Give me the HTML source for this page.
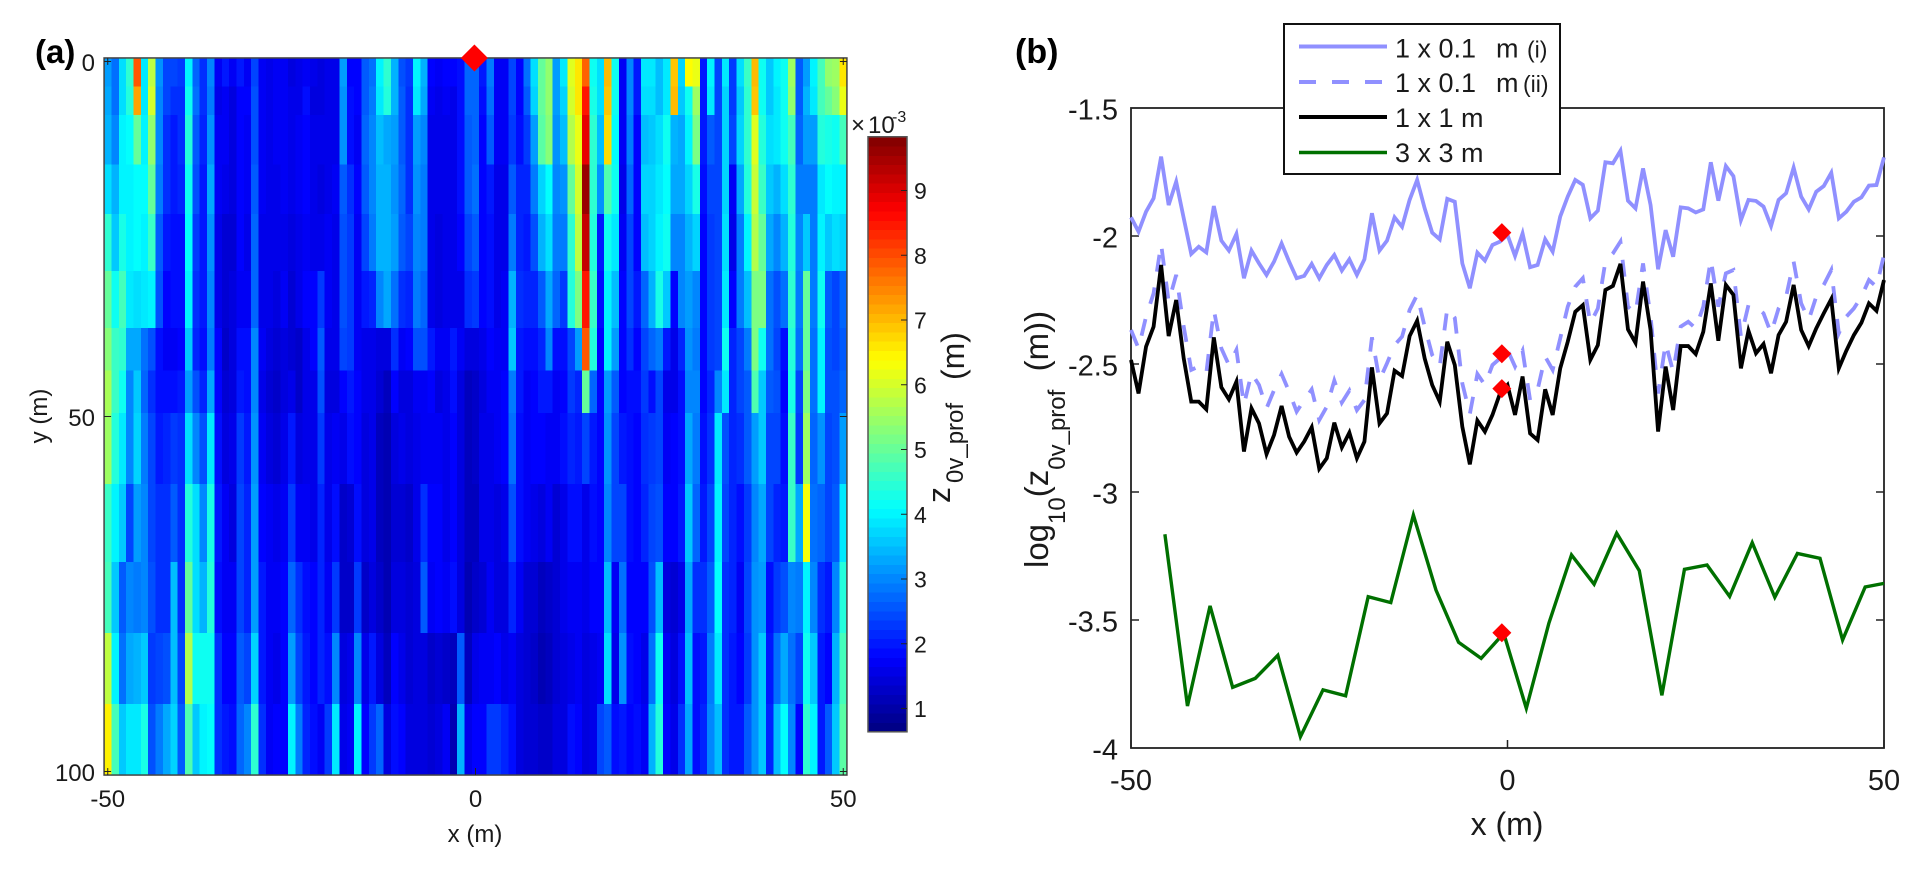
<!DOCTYPE html>
<html lang="en">
<head>
<meta charset="utf-8">
<title>Roughness length maps and profiles</title>
<style>
html,body{margin:0;padding:0;background:#fff;}
svg{display:block;font-family:"Liberation Sans",sans-serif;fill:#1a1a1a;}
</style>
</head>
<body>
<svg id="figure" xmlns="http://www.w3.org/2000/svg" width="1924" height="873" viewBox="0 0 1924 873">
  <rect x="0" y="0" width="1924" height="873" fill="#fff"/>
  <g id="panelA"></g>
  <g id="panelB"></g>

  <text x="35" y="63" font-size="33" font-weight="bold" fill="#000">(a)</text>
  <text x="1015" y="63" font-size="34" font-weight="bold" fill="#000">(b)</text>

  <text x="475" y="842" font-size="24" text-anchor="middle">x (m)</text>
  <text transform="translate(47,416) rotate(-90)" font-size="24" text-anchor="middle">y (m)</text>

  <text x="851" y="133" font-size="24">×</text>
  <text x="868" y="133" font-size="24">10</text>
  <text x="892" y="122" font-size="16">-3</text>

  <text transform="translate(950,503) rotate(-90)" font-size="32">z</text>
  <text transform="translate(963,483) rotate(-90)" font-size="24">0v_prof</text>
  <text transform="translate(964,380) rotate(-90)" font-size="32">(m)</text>

  <text x="1507" y="835" font-size="32" text-anchor="middle">x (m)</text>
  <text transform="translate(1048,568) rotate(-90)" font-size="33">log<tspan dy="17" font-size="24">10</tspan><tspan dy="-17">(z</tspan><tspan dy="17" font-size="24">0v_prof</tspan><tspan dy="-17" xml:space="preserve">  (m))</tspan></text>

  <g id="legend">
    <rect x="1284" y="24" width="276" height="150" fill="#fff" stroke="#111" stroke-width="2"/>
    <line x1="1299" y1="46.5" x2="1387" y2="46.5" stroke="#9090ff" stroke-width="4"/>
    <line x1="1299" y1="82" x2="1387" y2="82" stroke="#9090ff" stroke-width="4" stroke-dasharray="17 16"/>
    <line x1="1299" y1="117" x2="1387" y2="117" stroke="#000" stroke-width="4"/>
    <line x1="1299" y1="152.5" x2="1387" y2="152.5" stroke="#007000" stroke-width="3.5"/>
    <text x="1395" y="57.5" font-size="27">1 x 0.1 <tspan x="1496">m</tspan><tspan x="1527" font-size="23">(i)</tspan></text>
    <text x="1395" y="92" font-size="27">1 x 0.1 <tspan x="1496">m</tspan><tspan x="1523" font-size="23">(ii)</tspan></text>
    <text x="1395" y="127" font-size="27">1 x 1 m</text>
    <text x="1395" y="162" font-size="27">3 x 3 m</text>
  </g>
</svg>

<script>
// ---------- Panel (a) data: z0v_prof in units of 1e-3 m ----------
var heatXTicks = [-50, 0, 50];
var heatYTicks = [0, 50, 100];
var colorbarTicks = [1, 2, 3, 4, 5, 6, 7, 8, 9];
var colorMin = 0.64;
var colorMax = 9.83;
var heatXFirst = -50;
var heatRowEdges = [-0.5, 3.5, 7.5, 14.5, 21.5, 29.5, 37.5, 43.5, 49.5, 59.5, 70.5, 80.5, 90.5, 100.5];
var heatColumns = [
[3.2,3.3,3.4,3.8,4.5,5.0,5.3,5.6,5.5,4.6,4.7,5.8,6.5],
[2.8,2.8,3.0,3.4,3.6,4.2,4.6,4.6,4.4,4.0,3.6,4.0,4.7],
[3.8,3.8,4.0,4.0,4.3,4.7,4.5,4.2,3.9,3.6,2.6,2.8,3.6],
[4.5,4.4,4.1,4.0,4.0,3.9,3.3,3.0,3.0,2.4,3.0,3.3,3.9],
[7.9,7.2,5.0,4.1,4.1,3.8,3.3,3.6,3.7,3.2,2.9,3.4,3.9],
[3.9,3.9,4.0,4.1,4.0,3.9,2.8,2.7,2.9,3.0,3.0,3.6,4.3],
[5.8,6.0,5.4,5.0,4.6,4.0,2.5,2.2,2.4,2.4,2.5,2.3,2.5],
[3.1,3.0,3.0,2.9,2.6,2.5,1.9,1.9,2.0,2.2,2.2,2.4,2.9],
[2.4,2.4,2.2,2.2,2.0,1.8,1.7,1.9,2.1,2.2,2.2,2.5,3.3],
[2.4,2.2,2.0,2.0,1.9,1.9,1.7,1.9,2.3,2.6,3.5,3.5,3.7],
[2.3,2.2,2.2,2.1,1.9,1.9,1.8,2.0,2.2,2.2,2.2,2.4,2.6],
[4.0,4.2,4.4,4.2,4.1,4.0,3.6,3.2,3.8,4.4,5.0,5.7,4.8],
[2.7,2.8,2.6,2.5,2.3,2.2,2.1,2.5,3.0,3.8,3.8,4.2,3.6],
[2.2,2.2,2.1,2.0,2.0,2.0,1.9,2.1,2.5,3.0,3.4,4.2,4.0],
[3.0,2.9,3.1,3.3,3.1,3.0,2.9,3.3,3.9,4.3,4.4,4.2,4.1],
[1.7,1.6,1.7,1.7,1.6,1.6,1.8,1.8,1.9,2.0,1.9,2.2,2.2],
[2.0,1.7,1.7,1.6,1.4,1.4,1.3,1.4,1.5,1.7,1.7,1.8,2.0],
[1.7,1.5,1.5,1.5,1.4,1.5,1.5,1.5,1.6,1.5,1.7,1.8,1.9],
[2.0,1.8,1.8,1.8,1.8,1.7,1.9,2.0,2.3,2.4,2.4,2.6,2.7],
[1.7,1.8,1.7,1.7,1.6,1.7,1.9,1.9,2.0,2.1,2.1,2.4,3.0],
[2.4,2.5,2.5,2.6,2.7,2.7,3.0,3.0,3.1,3.2,3.2,3.7,4.5],
[1.7,1.7,1.7,1.7,1.6,1.6,1.7,1.6,1.7,1.8,2.0,2.0,2.2],
[1.6,1.6,1.6,1.6,1.6,1.6,1.5,1.4,1.5,1.7,1.7,1.7,1.7],
[1.7,1.7,1.7,1.6,1.6,1.5,1.4,1.3,1.4,1.6,1.7,1.6,1.8],
[1.7,1.7,1.7,1.7,1.6,1.7,1.5,1.5,1.6,1.7,1.8,1.8,1.8],
[1.5,1.6,1.6,1.6,1.5,1.4,1.4,1.6,2.0,2.3,2.7,3.2,4.0],
[1.6,1.6,1.7,1.7,1.6,1.6,1.3,1.3,1.5,1.7,2.2,2.4,2.9],
[1.7,1.9,1.8,1.8,1.7,1.8,1.6,1.6,1.6,1.7,1.9,2.0,2.1],
[1.6,1.5,1.6,1.6,1.6,1.8,1.8,1.6,1.6,1.6,1.8,1.8,1.9],
[1.5,1.5,1.6,1.5,1.6,2.3,2.6,2.5,2.3,2.1,2.1,2.1,1.7],
[1.6,1.6,1.6,1.6,1.7,1.7,1.6,1.5,1.6,1.6,1.7,1.9,2.3],
[1.6,1.6,1.6,1.7,1.6,1.6,1.6,1.5,1.7,1.9,2.3,3.0,3.9],
[3.2,3.1,3.1,2.6,2.5,2.5,2.4,1.8,1.6,1.3,1.3,1.5,1.6],
[1.8,1.9,1.9,2.2,2.3,2.3,2.3,2.0,1.9,1.4,1.3,1.6,1.7],
[1.8,1.8,1.7,1.8,1.7,1.7,1.7,1.8,1.8,1.9,2.3,3.0,4.0],
[2.6,2.6,2.7,2.6,2.4,2.0,1.6,1.6,1.5,1.5,1.3,1.6,1.8],
[2.8,2.9,3.0,3.0,2.9,2.1,1.6,1.6,1.6,1.6,1.5,2.0,2.3],
[4.0,3.9,3.5,3.4,3.4,3.0,1.5,1.4,1.2,1.2,1.3,1.5,2.7],
[4.5,4.4,3.3,3.4,3.4,3.3,1.5,1.2,1.1,1.1,1.1,1.2,1.5],
[3.4,3.4,3.2,3.1,3.2,2.8,2.2,1.8,1.5,1.4,1.5,1.8,1.9],
[2.5,2.6,2.6,2.7,2.6,2.2,1.7,1.5,1.6,1.4,1.5,1.6,1.8],
[2.3,2.2,2.2,2.2,2.4,2.1,1.8,1.5,1.5,1.3,1.4,1.4,1.5],
[4.0,3.9,3.2,3.1,3.0,2.9,2.5,1.7,1.6,1.6,1.5,1.5,1.5],
[3.4,3.3,3.0,2.9,2.9,2.7,2.5,1.7,1.7,2.2,2.6,1.5,1.5],
[1.8,1.7,1.6,1.6,1.6,1.6,2.0,1.8,1.7,1.8,1.7,1.3,1.4],
[1.7,1.6,1.6,1.6,1.5,1.5,1.7,1.5,1.7,1.8,1.8,1.4,1.5],
[1.8,1.7,1.6,1.6,1.6,1.6,1.7,1.6,1.6,1.6,1.7,1.3,1.7],
[1.8,1.6,1.6,1.6,1.6,1.6,2.0,1.9,1.8,1.8,1.9,1.2,1.1],
[1.9,1.9,1.9,1.9,1.8,1.6,1.7,1.5,1.5,1.5,1.5,2.6,3.4],
[2.7,2.7,2.6,2.6,2.4,2.2,1.5,1.2,1.2,1.2,1.1,1.2,1.6],
[2.7,2.7,2.7,2.8,2.6,2.3,1.5,1.3,1.3,1.2,1.3,1.6,1.8],
[2.0,1.9,1.8,1.8,1.8,1.8,1.6,1.5,1.6,1.6,1.4,1.7,1.8],
[2.9,2.8,2.6,2.0,1.9,1.9,1.8,1.7,1.6,1.6,1.7,1.7,2.3],
[1.7,1.7,1.7,1.6,1.6,1.6,1.7,1.7,1.7,1.5,1.5,1.8,2.3],
[1.7,1.7,1.7,1.6,1.6,1.7,1.7,1.8,1.8,1.6,1.5,1.6,2.1],
[2.4,2.4,2.3,2.6,2.9,3.4,3.6,2.9,2.8,2.5,2.1,1.7,1.9],
[1.8,1.8,1.9,2.1,2.1,2.2,2.0,2.0,1.9,1.9,1.7,1.5,1.5],
[2.8,2.6,2.3,2.1,2.0,2.1,1.9,1.7,1.7,1.7,1.4,1.4,1.4],
[3.8,3.7,3.2,2.9,2.5,2.1,1.9,1.8,1.8,1.6,1.4,1.3,1.4],
[5.0,5.0,4.9,3.7,3.4,2.6,2.1,2.0,1.8,1.5,1.2,1.1,1.3],
[5.4,5.4,5.3,4.1,3.8,3.3,3.0,2.0,1.7,1.7,1.3,1.2,1.3],
[3.2,3.2,3.1,3.0,2.9,2.7,1.9,1.7,1.7,1.4,1.4,1.4,1.5],
[3.9,3.7,3.5,3.1,2.9,2.3,1.9,1.8,1.9,1.6,1.6,1.5,1.5],
[6.1,6.0,5.7,5.0,4.5,4.4,2.4,2.3,2.1,1.9,1.7,1.6,1.9],
[6.6,6.6,6.2,6.0,5.8,5.2,3.2,2.1,2.0,1.9,1.7,1.7,1.8],
[7.8,8.5,8.9,9.6,9.2,8.5,7.9,5.0,2.4,1.6,1.6,1.5,1.5],
[4.2,4.3,4.5,4.5,4.4,4.6,4.4,2.7,2.0,1.9,1.8,1.6,1.6],
[3.8,3.8,3.5,3.1,2.0,1.9,1.8,1.8,1.8,1.8,1.8,1.7,2.4],
[7.0,6.9,6.7,4.8,4.2,4.0,4.0,3.2,3.1,3.0,3.5,3.8,2.6],
[4.2,4.2,4.1,4.2,3.9,3.5,3.2,2.6,2.4,2.4,1.7,1.6,1.9],
[1.7,1.7,1.7,1.6,1.7,1.8,1.8,1.8,2.0,2.4,2.8,3.1,2.0],
[3.0,3.0,2.9,2.7,2.4,2.4,2.2,1.9,1.9,1.9,1.8,1.9,1.8],
[2.0,2.0,1.8,1.8,1.8,2.0,1.8,1.9,1.8,1.8,1.8,1.8,1.9],
[3.9,3.8,3.5,3.7,3.5,2.7,2.4,2.3,2.2,2.1,1.8,1.6,1.7],
[3.9,3.8,3.6,3.7,3.7,3.4,2.7,1.9,2.3,2.4,2.5,2.8,3.4],
[3.5,3.5,3.8,3.9,4.0,4.3,2.9,2.4,2.4,2.5,3.5,4.2,4.4],
[3.9,3.9,4.2,4.1,4.2,3.6,2.0,1.6,1.7,1.8,1.5,1.7,1.8],
[6.9,7.0,3.4,3.3,3.0,1.8,1.6,1.6,1.8,1.8,1.4,1.5,1.6],
[3.7,3.6,3.3,3.3,3.0,3.0,2.1,1.9,1.9,2.0,1.6,1.9,2.2],
[6.4,4.2,4.0,3.7,3.4,3.2,3.1,3.0,3.3,3.6,3.3,3.5,3.3],
[6.2,5.5,5.2,4.3,3.7,3.0,2.9,3.0,2.9,2.7,2.2,1.9,1.9],
[2.0,2.0,2.0,1.9,1.8,1.8,1.8,1.8,1.9,2.0,2.2,2.0,2.1],
[4.0,3.9,2.6,2.4,2.3,2.3,2.3,2.1,2.2,2.4,2.6,2.9,3.0],
[2.4,2.4,2.4,2.4,2.4,2.4,2.4,3.0,3.9,4.0,4.1,3.9,3.5],
[3.9,3.7,3.7,3.7,3.8,3.9,4.2,3.9,2.5,2.4,2.2,2.2,2.2],
[2.3,2.3,2.4,1.7,1.6,1.8,2.1,2.1,2.1,2.1,2.1,2.0,2.0],
[3.8,3.6,3.7,3.3,2.9,2.9,2.4,2.4,2.2,1.9,1.7,1.8,2.0],
[4.6,4.5,4.5,4.4,4.0,3.5,2.9,2.6,2.6,2.3,2.4,2.3,2.6],
[7.0,6.9,6.1,5.9,5.7,5.2,5.2,4.8,3.2,3.0,3.1,3.1,3.1],
[4.2,4.2,4.4,4.6,5.0,5.2,4.2,3.6,3.6,3.3,3.2,3.6,3.6],
[3.6,3.6,3.8,3.6,3.3,2.8,2.8,2.6,2.4,2.4,1.9,2.0,2.1],
[4.0,3.9,3.9,3.4,3.0,2.5,2.4,2.5,2.4,2.1,2.3,2.8,3.5],
[4.2,4.2,4.2,3.8,3.4,2.8,1.9,1.8,1.9,2.0,2.5,3.3,4.1],
[5.5,5.4,4.7,4.5,4.4,4.5,4.4,4.3,4.6,4.6,3.0,2.8,3.0],
[2.6,2.6,2.7,2.9,3.0,2.9,2.8,2.4,2.3,3.3,2.9,2.4,1.8],
[3.2,3.4,3.2,2.9,3.6,5.0,5.0,5.2,5.5,6.3,4.0,4.2,4.5],
[4.0,3.9,3.2,2.9,2.9,2.9,2.8,2.8,2.7,2.8,3.0,3.6,4.0],
[4.7,4.7,4.4,3.9,4.0,4.2,4.0,4.0,3.1,2.7,2.2,2.0,2.0],
[5.4,5.0,4.3,4.1,3.6,2.6,2.5,2.5,2.4,2.4,2.0,1.8,2.6],
[5.5,5.3,4.2,4.0,3.8,2.4,2.4,2.5,2.5,2.6,3.0,3.4,3.6],
[6.6,6.2,4.7,4.0,3.7,2.7,2.6,2.7,3.2,3.9,4.4,4.7,4.9]
];

// ---------- Panel (b) data: log10(z0v_prof) ----------
var profileXTicks = [-50, 0, 50];
var profileYTicks = [-1.5, -2, -2.5, -3, -3.5, -4];
var profileYLabels = ["-1.5", "-2", "-2.5", "-3", "-3.5", "-4"];
var profileXStart = -50;
var fineSolid = [-1.927,-1.983,-1.905,-1.853,-1.69,-1.879,-1.788,-1.93,-2.07,-2.042,-2.064,-1.883,-2.018,-2.057,-1.992,-2.165,-2.057,-2.107,-2.152,-2.1,-2.029,-2.1,-2.165,-2.156,-2.109,-2.165,-2.113,-2.074,-2.135,-2.091,-2.152,-2.091,-1.911,-2.057,-2.018,-1.927,-1.964,-1.859,-1.781,-1.892,-1.987,-2.013,-1.855,-1.866,-2.107,-2.204,-2.065,-2.096,-2.035,-2.022,-1.996,-2.078,-1.99,-2.122,-2.113,-2.013,-2.061,-1.924,-1.846,-1.781,-1.8,-1.931,-1.901,-1.712,-1.716,-1.667,-1.862,-1.892,-1.736,-1.879,-2.13,-1.977,-2.081,-1.888,-1.892,-1.908,-1.896,-1.712,-1.862,-1.727,-1.766,-1.938,-1.859,-1.863,-1.885,-1.961,-1.859,-1.833,-1.733,-1.846,-1.896,-1.827,-1.805,-1.753,-1.931,-1.905,-1.866,-1.849,-1.803,-1.801,-1.693];
var fineDashed = [-2.367,-2.439,-2.315,-2.224,-2.031,-2.257,-2.152,-2.354,-2.523,-2.51,-2.536,-2.289,-2.439,-2.504,-2.445,-2.66,-2.536,-2.582,-2.673,-2.602,-2.539,-2.608,-2.686,-2.641,-2.599,-2.719,-2.667,-2.565,-2.651,-2.604,-2.68,-2.641,-2.396,-2.563,-2.497,-2.426,-2.393,-2.289,-2.23,-2.354,-2.465,-2.51,-2.283,-2.32,-2.576,-2.695,-2.539,-2.582,-2.504,-2.478,-2.445,-2.51,-2.448,-2.641,-2.6,-2.471,-2.523,-2.4,-2.276,-2.198,-2.165,-2.341,-2.283,-2.1,-2.068,-2.022,-2.276,-2.302,-2.107,-2.315,-2.615,-2.419,-2.53,-2.354,-2.335,-2.361,-2.276,-2.091,-2.276,-2.146,-2.133,-2.393,-2.27,-2.276,-2.302,-2.38,-2.283,-2.237,-2.1,-2.263,-2.328,-2.237,-2.191,-2.133,-2.38,-2.315,-2.283,-2.237,-2.172,-2.198,-2.074];
var oneMetre = [-2.484,-2.615,-2.432,-2.354,-2.113,-2.391,-2.25,-2.478,-2.647,-2.647,-2.677,-2.396,-2.591,-2.638,-2.569,-2.842,-2.673,-2.732,-2.852,-2.777,-2.664,-2.784,-2.846,-2.803,-2.747,-2.909,-2.868,-2.729,-2.826,-2.768,-2.868,-2.803,-2.513,-2.732,-2.693,-2.526,-2.547,-2.391,-2.331,-2.478,-2.582,-2.647,-2.413,-2.504,-2.745,-2.892,-2.721,-2.764,-2.699,-2.615,-2.582,-2.699,-2.549,-2.771,-2.797,-2.599,-2.699,-2.517,-2.413,-2.296,-2.27,-2.484,-2.426,-2.211,-2.195,-2.109,-2.365,-2.417,-2.178,-2.367,-2.764,-2.51,-2.68,-2.43,-2.43,-2.461,-2.374,-2.185,-2.409,-2.191,-2.23,-2.517,-2.37,-2.458,-2.422,-2.536,-2.387,-2.335,-2.191,-2.367,-2.43,-2.361,-2.302,-2.246,-2.517,-2.448,-2.387,-2.339,-2.263,-2.292,-2.172];
var threeMetreX = [-45.5,-42.5,-39.5,-36.5,-33.5,-30.5,-27.5,-24.5,-21.5,-18.5,-15.5,-12.5,-9.5,-6.5,-3.5,-0.5,2.5,5.5,8.5,11.5,14.5,17.5,20.5,23.5,26.5,29.5,32.5,35.5,38.5,41.5,44.5,47.5,50];
var threeMetre = [-3.165,-3.836,-3.445,-3.763,-3.728,-3.638,-3.956,-3.773,-3.796,-3.409,-3.432,-3.09,-3.383,-3.587,-3.65,-3.552,-3.845,-3.512,-3.246,-3.36,-3.161,-3.307,-3.794,-3.302,-3.285,-3.408,-3.198,-3.411,-3.24,-3.259,-3.578,-3.371,-3.357];
var markerX = -0.75;
var markerValues = [-1.987, -2.46, -2.596, -3.55];

// ---------- Helpers ----------
var NS = 'http://www.w3.org/2000/svg';
function make(tag, parent, attrs) {
  var el = document.createElementNS(NS, tag);
  for (var k in attrs) { el.setAttribute(k, attrs[k]); }
  parent.appendChild(el);
  return el;
}
function clamp01(t) { return Math.max(0, Math.min(1, t)); }
function jet(v) {
  var c = clamp01((v - colorMin) / (colorMax - colorMin));
  var r = clamp01(1.5 - Math.abs(4 * c - 3));
  var g = clamp01(1.5 - Math.abs(4 * c - 2));
  var b = clamp01(1.5 - Math.abs(4 * c - 1));
  return 'rgb(' + Math.round(r * 255) + ',' + Math.round(g * 255) + ',' + Math.round(b * 255) + ')';
}

// ---------- Panel (a) ----------
var panelA = document.getElementById('panelA');
function heatX(v) { return 475.5 + 7.355 * v; }
function heatY(v) { return 61.5 + 7.1 * v; }
var heatGroup = make('g', panelA, {'shape-rendering': 'crispEdges'});


heatColumns.forEach(function (col, i) {
  var xv = heatXFirst + i;
  col.forEach(function (val, b) {
    var x0 = heatX(xv - 0.5), x1 = heatX(xv + 0.5);
    var y0 = heatY(heatRowEdges[b]), y1 = heatY(heatRowEdges[b + 1]);
    var cell = make('rect', heatGroup, {x: x0, y: y0, width: x1 - x0 + 0.4, height: y1 - y0 + 0.4, fill: jet(val)});
    
    
  });
});
var heatFrame = make('rect', panelA, {x: heatX(-50.5), y: heatY(-0.5), width: heatX(50.5) - heatX(-50.5), height: heatY(100.5) - heatY(-0.5), fill: 'none', stroke: '#444', 'stroke-width': 1.5});



heatXTicks.forEach(function (t) {
  [[heatY(100.5), heatY(100.5) - 7], [heatY(-0.5), heatY(-0.5) + 7]].forEach(function (p) {
    var tick = make('line', panelA, {x1: heatX(t), x2: heatX(t), y1: p[0], y2: p[1], stroke: '#222', 'stroke-width': 1});
    
    
  });
  var label = make('text', panelA, {x: heatX(t), y: 807, 'font-size': 24, 'text-anchor': 'middle'});
  label.textContent = String(t);
  
  
});
heatYTicks.forEach(function (t) {
  [[heatX(-50.5), heatX(-50.5) + 7], [heatX(50.5), heatX(50.5) - 7]].forEach(function (p) {
    var tick = make('line', panelA, {x1: p[0], x2: p[1], y1: heatY(t), y2: heatY(t), stroke: '#222', 'stroke-width': 1});
    
    
  });
  var label = make('text', panelA, {x: 95, y: heatY(t) + 9.5, 'font-size': 24, 'text-anchor': 'end'});
  label.textContent = String(t);
  
  
});
var topMarker = make('polygon', panelA, {points: [[heatX(-0.15) - 13.5, 58], [heatX(-0.15), 44.5], [heatX(-0.15) + 13.5, 58], [heatX(-0.15), 71.5]].join(' '), fill: '#ff0000'});



// Colorbar
function barY(v) { return 579 - (v - 3) * 64.75; }
var barGroup = make('g', panelA, {'shape-rendering': 'crispEdges'});


var barLevels = 64;
for (var lv = 0; lv < barLevels; lv++) {
  var lo = colorMin + (colorMax - colorMin) * lv / barLevels;
  var hi = colorMin + (colorMax - colorMin) * (lv + 1) / barLevels;
  var seg = make('rect', barGroup, {x: 868, y: barY(hi), width: 39, height: barY(lo) - barY(hi) + 0.4, fill: jet((lo + hi) / 2)});
  
  
}
var barFrame = make('rect', panelA, {x: 868, y: barY(colorMax), width: 39, height: barY(colorMin) - barY(colorMax), fill: 'none', stroke: '#555', 'stroke-width': 1.5});


colorbarTicks.forEach(function (t) {
  var tick = make('line', panelA, {x1: 901, x2: 907, y1: barY(t), y2: barY(t), stroke: '#222', 'stroke-width': 1});
  
  
  var label = make('text', panelA, {x: 914, y: barY(t) + 8.5, 'font-size': 23});
  label.textContent = String(t);
  
  
});

// ---------- Panel (b) ----------
var panelB = document.getElementById('panelB');
function profX(v) { return 1507.5 + 7.53 * v; }
function profY(v) { return 236 - (v + 2) * 256; }
var profFrame = make('rect', panelB, {x: profX(-50), y: profY(-1.5), width: profX(50) - profX(-50), height: profY(-4) - profY(-1.5), fill: '#fff', stroke: '#222', 'stroke-width': 1.8});



profileYTicks.forEach(function (t, i) {
  if (i > 0 && i < profileYTicks.length - 1) {
    [[profX(-50), profX(-50) + 8], [profX(50), profX(50) - 8]].forEach(function (p) {
      var tick = make('line', panelB, {x1: p[0], x2: p[1], y1: profY(t), y2: profY(t), stroke: '#222', 'stroke-width': 1.5});
      
      
    });
  }
  var label = make('text', panelB, {x: 1118, y: profY(t) + 11.5, 'font-size': 29, 'text-anchor': 'end'});
  label.textContent = profileYLabels[i];
  
  
});
profileXTicks.forEach(function (t) {
  var tick = make('line', panelB, {x1: profX(t), x2: profX(t), y1: profY(-4), y2: profY(-4) - 8, stroke: '#222', 'stroke-width': 1.5});
  
  
  var label = make('text', panelB, {x: profX(t), y: 790, 'font-size': 29, 'text-anchor': 'middle'});
  label.textContent = String(t);
  
  
});

function seriesPoints(values) {
  return values.map(function (v, i) { return profX(profileXStart + i) + ',' + profY(v); }).join(' ');
}
var lineSolid = make('polyline', panelB, {points: seriesPoints(fineSolid), fill: 'none', stroke: '#9090ff', 'stroke-width': 3.8, 'stroke-linejoin': 'miter'});


var lineDashed = make('polyline', panelB, {points: seriesPoints(fineDashed), fill: 'none', stroke: '#9090ff', 'stroke-width': 3.8, 'stroke-dasharray': '17 16', 'stroke-linejoin': 'miter'});


var lineBlack = make('polyline', panelB, {points: seriesPoints(oneMetre), fill: 'none', stroke: '#000', 'stroke-width': 3.8, 'stroke-linejoin': 'miter'});


var lineGreen = make('polyline', panelB, {points: threeMetre.map(function (v, i) { return profX(threeMetreX[i]) + ',' + profY(v); }).join(' '), fill: 'none', stroke: '#007000', 'stroke-width': 3.4, 'stroke-linejoin': 'miter'});



markerValues.forEach(function (v) {
  var cx = profX(markerX), cy = profY(v);
  var mark = make('polygon', panelB, {points: [[cx - 9.5, cy], [cx, cy - 9.5], [cx + 9.5, cy], [cx, cy + 9.5]].join(' '), fill: '#ff0000'});
  
  
});
</script>
</body>
</html>
